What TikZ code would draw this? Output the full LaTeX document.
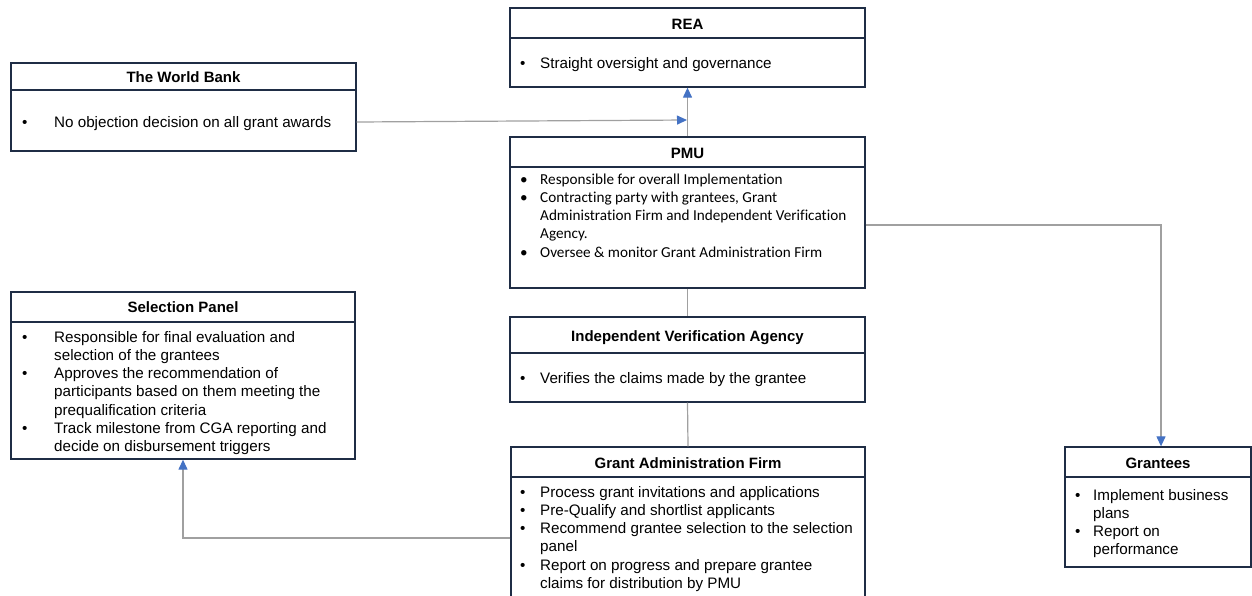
\documentclass[tikz,border=0pt]{standalone}
\usepackage{fontspec}
\setmainfont{Liberation Sans}
\newfontfamily\calibri[Ligatures=NoCommon]{Carlito}
\usetikzlibrary{arrows.meta}
\definecolor{navy}{HTML}{1F2D45}
\definecolor{conn}{HTML}{A0A0A0}
\definecolor{tipblue}{HTML}{4472C4}
\newcommand{\bodyfont}{\fontsize{15.2}{18.3}\selectfont}
\tikzset{
 boxframe/.style={draw=navy, line width=1.3pt, inner sep=0pt},
 divider/.style={draw=navy, line width=2pt},
 titletext/.style={font=\bfseries\fontsize{15}{18}\selectfont, anchor=base, inner sep=0pt},
 bodytext/.style={font=\bodyfont, anchor=base west, inner sep=0pt, align=left},
 conline/.style={draw=conn, line width=1.2pt},
 arr/.style={conline, -{Triangle[length=10pt,width=9pt,color=tipblue]}},
}
\begin{document}
\begin{tikzpicture}[x=1pt,y=-1pt]
\useasboundingbox (0,0) rectangle (1252,595);
\clip (0,0) rectangle (1252,595);

% boxes
\node[boxframe, minimum width=355pt, minimum height=79pt] (rea) at (687.5,47.5) {};
\node[boxframe, minimum width=345pt, minimum height=88pt] (wb) at (183.5,107) {};
\node[boxframe, minimum width=355pt, minimum height=151pt] (pmu) at (687.5,212.5) {};
\node[boxframe, minimum width=344pt, minimum height=167pt] (sp) at (183,375.5) {};
\node[boxframe, minimum width=355pt, minimum height=85pt] (iva) at (687.5,359.5) {};
\node[boxframe, minimum width=354pt, minimum height=153pt] (gaf) at (688,523.5) {};
\node[boxframe, minimum width=186pt, minimum height=120pt] (gr) at (1158,507) {};

% dividers
\draw[divider] (510,38) -- (865,38);
\draw[divider] (11,90) -- (356,90);
\draw[divider] (510,167) -- (865,167);
\draw[divider] (11,322) -- (355,322);
\draw[divider] (510,353) -- (865,353);
\draw[divider] (511,477) -- (865,477);
\draw[divider] (1065,477) -- (1251,477);

% titles
\node[titletext] (reat) at (687.5,29) {REA};
\node[titletext] (wbt) at (183.5,82) {The World Bank};
\node[titletext] (pmut) at (687.5,158) {PMU};
\node[titletext] (spt) at (183,312) {Selection Panel};
\node[titletext] (ivat) at (687.5,341) {Independent Verification Agency};
\node[titletext] (gaft) at (688,468) {Grant Administration Firm};
\node[titletext] (grt) at (1158,468) {Grantees};

% bodies
\node[bodytext] (reab) at (520,68) {\begin{tabular}[t]{@{}p{20pt}@{}l@{}}\textbullet & Straight oversight and governance\end{tabular}};
\node[bodytext] (wbb) at (22,127) {\begin{tabular}[t]{@{}p{32pt}@{}l@{}}\textbullet & No objection decision on all grant awards\end{tabular}};
\node[bodytext, font=\calibri\bodyfont] (pmub) at (520,184) {\begin{tabular}[t]{@{}p{20pt}@{}l@{}}\textbullet & Responsible for overall Implementation\\
\textbullet & Contracting party with grantees, Grant\\
 & Administration Firm and Independent Verification\\
 & Agency.\\
\textbullet & Oversee \& monitor Grant Administration Firm\end{tabular}};
\node[bodytext] (spb) at (22,342) {\begin{tabular}[t]{@{}p{32pt}@{}l@{}}\textbullet & Responsible for final evaluation and\\
 & selection of the grantees\\
\textbullet & Approves the recommendation of\\
 & participants based on them meeting the\\
 & prequalification criteria\\
\textbullet & Track milestone from CGA reporting and\\
 & decide on disbursement triggers\end{tabular}};
\node[bodytext] (ivab) at (520,383) {\begin{tabular}[t]{@{}p{20pt}@{}l@{}}\textbullet & Verifies the claims made by the grantee\end{tabular}};
\node[bodytext] (gafb) at (520,497) {\begin{tabular}[t]{@{}p{20pt}@{}l@{}}\textbullet & Process grant invitations and applications\\
\textbullet & Pre-Qualify and shortlist applicants\\
\textbullet & Recommend grantee selection to the selection\\
 & panel\\
\textbullet & Report on progress and prepare grantee\\
 & claims for distribution by PMU\end{tabular}};
\node[bodytext] (grb) at (1075,500) {\begin{tabular}[t]{@{}p{18pt}@{}l@{}}\textbullet & Implement business\\
 & plans\\
\textbullet & Report on\\
 & performance\end{tabular}};

% connectors
\coordinate (j) at (687,120);
\draw[arr] ([yshift=-15pt]wb.east) -- (j);
\draw[arr] (pmu.north) -- (rea.south);
\draw[conline] (pmu.south) -- (iva.north);
\draw[conline] (iva.south) -- (gaf.north);
\draw[arr] ([yshift=-12.5pt]pmu.east) -| ([xshift=3pt]gr.north);
\draw[arr] ([yshift=-14.5pt]gaf.west) -| (sp.south);
\end{tikzpicture}
\end{document}
